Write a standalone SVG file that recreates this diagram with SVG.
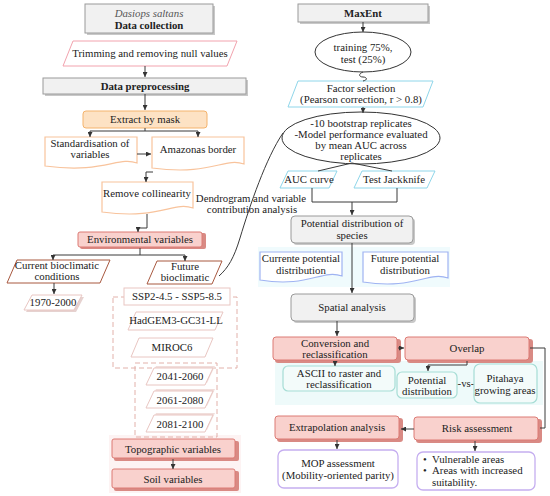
<svg xmlns="http://www.w3.org/2000/svg" width="550" height="496" viewBox="0 0 550 496">
<defs>
<marker id="a" viewBox="0 0 6 6" refX="6" refY="3" markerWidth="5" markerHeight="5" orient="auto"><path d="M0,0 L6,3 L0,6 z" fill="#333"/></marker>
<style>
text{font-family:"Liberation Serif","Times New Roman",serif;font-size:10.8px;fill:#222;text-anchor:middle}
.b{font-weight:bold}
.i{font-style:italic;fill:#555}
.gray{fill:#f1f1f1;stroke:#9a9a9a;stroke-width:1}
.gsh{fill:#c8c8c8}
.pink{fill:#fff;stroke:#f2a3ae;stroke-width:1}
.org{fill:#fde2c4;stroke:#f4b36c;stroke-width:1}
.odoc{fill:#fff;stroke:#f8c39c;stroke-width:1.2}
.red{fill:#f9d1cd;stroke:#dc7a74;stroke-width:1}
.rsh{fill:#d98a84}
.brn{fill:#fff;stroke:#a8583f;stroke-width:1}
.lp{fill:#fff;stroke:#e9c6c2;stroke-width:1}
.dash{fill:none;stroke:#e2b1aa;stroke-width:1;stroke-dasharray:5,3}
.blu{fill:#fff;stroke:#8fd6ea;stroke-width:1}
.per{fill:#fff;stroke:#9fb3f2;stroke-width:1.2}
.teal{fill:#f3fbfa;stroke:#a6ddd5;stroke-width:1.2}
.pur{fill:#fff;stroke:#c5aef0;stroke-width:1.3}
.ell{fill:#fff;stroke:#333;stroke-width:1}
.c{fill:none;stroke:#3a3a3a;stroke-width:1}
.ca{fill:none;stroke:#3a3a3a;stroke-width:1;marker-end:url(#a)}
</style>
</defs>
<rect width="550" height="496" fill="#fff"/>
<!-- faint background bands -->
<rect x="258" y="247" width="192" height="40" fill="#f0fbfd"/>
<rect x="275" y="361" width="268" height="44" fill="#eefafa"/>
<rect x="109" y="435" width="132" height="58" fill="#fdf3f3"/>

<g id="data-collection">
<rect class="gsh" x="87" y="6" width="128" height="29"/>
<rect class="gray" x="85" y="4" width="128" height="29"/>
<text class="i" x="149" y="17">Dasiops saltans</text>
<text class="b" x="149" y="29">Data collection</text>
</g>
<g id="trimming">
<polygon class="pink" points="73,41 237,41 227,66 63,66"/>
<text x="150" y="57">Trimming and removing null values</text>
</g>
<g id="data-preprocessing">
<rect class="gsh" x="45" y="80" width="203" height="16"/>
<rect class="gray" x="43" y="78" width="203" height="16"/>
<text class="b" x="145" y="90">Data preprocessing</text>
</g>
<g id="extract-by-mask">
<rect class="org" x="83" y="111" width="124" height="17" rx="3"/>
<text x="145" y="123">Extract by mask</text>
</g>
<g id="standardisation">
<path class="odoc" d="M45,137 H137 V163 C118,156 104,174 45,166 Z"/>
<text x="90" y="147">Standardisation of</text>
<text x="90" y="158">variables</text>
</g>
<g id="amazonas-border">
<path class="odoc" d="M152,137 H244 V164 C224,157 212,176 152,168 Z"/>
<text x="198" y="153">Amazonas border</text>
</g>
<g id="remove-collinearity">
<path class="odoc" d="M102,182 H193 V208 C173,201 160,220 102,212 Z"/>
<text x="147" y="197">Remove collinearity</text>
</g>
<g id="environmental-variables">
<rect class="rsh" x="80" y="233" width="126" height="16" rx="2"/>
<rect class="red" x="78" y="232" width="124" height="15" rx="2"/>
<text x="140" y="243">Environmental variables</text>
</g>
<g id="current-bioclimatic">
<polygon class="brn" points="17,260 110,260 100,283 7,283"/>
<text x="57" y="269">Current bioclimatic</text>
<text x="57" y="280">conditions</text>
</g>
<g id="y1970-2000">
<polygon fill="#e6d2d0" points="34,297 84,297 76,312 26,312"/>
<polygon class="lp" points="32,295 82,295 74,310 24,310"/>
<text x="53" y="306">1970-2000</text>
</g>
<g id="future-bioclimatic">
<polygon class="brn" points="157,261 222,261 212,284 147,284"/>
<text x="185" y="270">Future</text>
<text x="185" y="281">bioclimatic</text>
</g>
<g id="scenario-group">
<rect class="dash" x="113" y="297" width="124" height="71"/>
</g>
<g id="ssp">
<rect class="lp" x="124" y="288" width="106" height="17"/>
<text x="177" y="300">SSP2-4.5 - SSP5-8.5</text>
</g>
<g id="hadgem">
<polygon class="lp" points="136,312 223,312 215,330 128,330"/>
<text x="176" y="324">HadGEM3-GC31-LL</text>
</g>
<g id="miroc6">
<polygon class="lp" points="139,338 213,338 205,357 131,357"/>
<text x="172" y="351">MIROC6</text>
</g>
<g id="period-group">
<rect class="dash" x="135" y="363" width="82" height="74"/>
</g>
<g id="p2041">
<polygon fill="#f1dedb" points="156,366 215,366 207,383 148,383"/>
<polygon class="lp" points="154,368 213,368 205,385 146,385"/>
<text x="180" y="380">2041-2060</text>
</g>
<g id="p2061">
<polygon fill="#f1dedb" points="156,389 215,389 207,406 148,406"/>
<polygon class="lp" points="154,391 213,391 205,408 146,408"/>
<text x="180" y="404">2061-2080</text>
</g>
<g id="p2081">
<polygon fill="#f1dedb" points="156,413 215,413 207,430 148,430"/>
<polygon class="lp" points="154,415 213,415 205,432 146,432"/>
<text x="180" y="428">2081-2100</text>
</g>
<g id="topographic-variables">
<rect class="rsh" x="114" y="441" width="125" height="20" rx="2"/>
<rect class="red" x="112" y="439" width="123" height="19" rx="2"/>
<text x="173" y="453">Topographic variables</text>
</g>
<g id="soil-variables">
<rect class="rsh" x="114" y="471" width="125" height="20" rx="2"/>
<rect class="red" x="112" y="469" width="123" height="19" rx="2"/>
<text x="173" y="483">Soil variables</text>
</g>

<!-- right column -->
<g id="maxent">
<rect class="gsh" x="300" y="6" width="130" height="18"/>
<rect class="gray" x="298" y="4" width="130" height="18"/>
<text class="b" x="363" y="17">MaxEnt</text>
</g>
<g id="training">
<ellipse class="ell" cx="363" cy="52" rx="48" ry="20"/>
<text x="363" y="51">training 75%,</text>
<text x="363" y="63">test (25%)</text>
</g>
<g id="factor-selection">
<polygon class="blu" points="298,81 433,81 423,107 288,107"/>
<text x="361" y="92">Factor selection</text>
<text x="361" y="103">(Pearson correction, r &gt; 0.8)</text>
</g>
<g id="bootstrap">
<ellipse class="ell" cx="361" cy="138" rx="79" ry="26"/>
<text x="361" y="127">-10 bootstrap replicates</text>
<text x="361" y="138">-Model performance evaluated</text>
<text x="361" y="149">by mean AUC across</text>
<text x="361" y="160">replicates</text>
</g>
<g id="auc-curve">
<polygon class="blu" points="288,171 337,171 329,188 280,188"/>
<text x="309" y="183">AUC curve</text>
</g>
<g id="test-jackknife">
<polygon class="blu" points="362,171 435,171 427,188 354,188"/>
<text x="394" y="183">Test Jackknife</text>
</g>
<g id="potential-distribution-species">
<rect class="gsh" x="293" y="218" width="122" height="27" rx="4"/>
<rect class="gray" x="291" y="216" width="122" height="27" rx="4"/>
<text x="352" y="227">Potential distribution of</text>
<text x="352" y="239">species</text>
</g>
<g id="currente-potential">
<path class="per" d="M260,252 H342 V276 C322,269 308,288 260,280 Z"/>
<text x="301" y="262">Currente potential</text>
<text x="301" y="274">distribution</text>
</g>
<g id="future-potential">
<path class="per" d="M363,252 H448 V278 C428,271 414,290 363,282 Z"/>
<text x="405" y="262">Future potential</text>
<text x="405" y="274">distribution</text>
</g>
<g id="spatial-analysis">
<rect class="gsh" x="293" y="296" width="123" height="27" rx="4"/>
<rect class="gray" x="291" y="294" width="123" height="27" rx="4"/>
<text x="352" y="311">Spatial analysis</text>
</g>
<g id="conversion">
<rect class="rsh" x="275" y="339" width="126" height="24" rx="3"/>
<rect class="red" x="273" y="337" width="124" height="23" rx="3"/>
<text x="335" y="347">Conversion and</text>
<text x="335" y="358">reclassification</text>
</g>
<g id="overlap">
<rect class="rsh" x="407" y="339" width="126" height="24" rx="3"/>
<rect class="red" x="405" y="337" width="124" height="23" rx="3"/>
<text x="467" y="352">Overlap</text>
</g>
<g id="ascii">
<rect class="teal" x="283" y="366" width="112" height="25" rx="5"/>
<text x="339" y="377">ASCII to raster and</text>
<text x="339" y="388">reclassification</text>
</g>
<g id="potential-distribution">
<rect class="teal" x="397" y="372" width="60" height="26" rx="5"/>
<text x="427" y="384">Potential</text>
<text x="427" y="395">distribution</text>
</g>
<g id="vs">
<text x="466" y="387">-vs-</text>
</g>
<g id="pitahaya">
<rect class="teal" x="474" y="364" width="63" height="39" rx="6"/>
<text x="505" y="382">Pitahaya</text>
<text x="505" y="394">growing areas</text>
</g>
<g id="extrapolation">
<rect class="rsh" x="277" y="418" width="126" height="24" rx="3"/>
<rect class="red" x="275" y="416" width="124" height="23" rx="3"/>
<text x="337" y="431">Extrapolation analysis</text>
</g>
<g id="risk-assessment">
<rect class="rsh" x="416" y="419" width="126" height="24" rx="3"/>
<rect class="red" x="414" y="417" width="124" height="23" rx="3"/>
<text x="477" y="432">Risk assessment</text>
</g>
<g id="mop">
<rect class="pur" x="278" y="450" width="120" height="38" rx="6"/>
<text x="338" y="467">MOP assessment</text>
<text x="338" y="479">(Mobility-oriented parity)</text>
</g>
<g id="vulnerable">
<rect class="pur" x="417" y="452" width="118" height="38" rx="6"/>
<text x="423" y="463" style="text-anchor:start">•</text>
<text x="432" y="463" style="text-anchor:start">Vulnerable areas</text>
<text x="423" y="474" style="text-anchor:start">•</text>
<text x="432" y="474" style="text-anchor:start">Areas with increased</text>
<text x="432" y="486" style="text-anchor:start">suitability.</text>
</g>

<g id="connectors">
<path class="ca" d="M145,66 V77"/>
<path class="ca" d="M145,94 V110"/>
<path class="c" d="M145,128 V131 M90,131 H198"/>
<path class="ca" d="M90,131 V137"/>
<path class="ca" d="M198,131 V137"/>
<path class="ca" d="M137,154 H151"/>
<path class="ca" d="M153,172 H146 V182"/>
<path class="ca" d="M147,214 V228 H138 V232"/>
<path class="c" d="M140,248 V255 M53,255 H185"/>
<path class="ca" d="M53,255 V260"/>
<path class="ca" d="M185,255 V261"/>
<path class="ca" d="M54,283 V294"/>
<path class="ca" d="M173,459 V469"/>
<path class="c" d="M283,133 C266,158 250,205 240,238 C234,258 228,268 219,276"/>
<path class="ca" d="M363,22 V32"/>
<path class="c" d="M363,72 C358,74 359,77 363,77 C367,77 368,80 363,81"/>
<path class="ca" d="M363,107 V113"/>
<path class="c" d="M352,163 L318,171 M352,163 L392,171"/>
<path class="c" d="M312,188 V202 H397 V188"/>
<path class="ca" d="M352,202 V215"/>
<path class="ca" d="M352,243 V293"/>
<path class="ca" d="M337,321 V336"/>
<path class="ca" d="M398,348 H404"/>
<path class="c" d="M530,348 H545 V428 H540"/>
<path class="ca" d="M467,361 V365 H428 V371"/>
<path class="ca" d="M335,361 V366"/>
<path class="ca" d="M414,429 H401"/>
<path class="ca" d="M337,440 V449"/>
<path class="ca" d="M475,441 V451"/>
</g>
<g id="dendrogram-label">
<text x="251" y="202">Dendrogram and variable</text>
<text x="252" y="213">contribution analysis</text>
</g>
</svg>
